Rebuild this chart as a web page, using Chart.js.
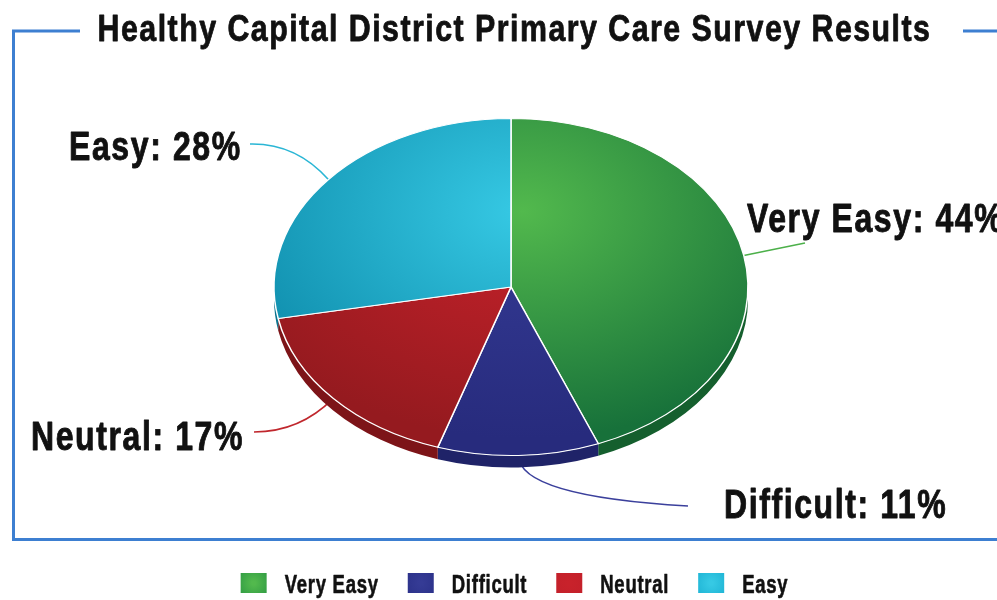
<!DOCTYPE html>
<html>
<head>
<meta charset="utf-8">
<title>Healthy Capital District Primary Care Survey Results</title>
<script src="https://cdn.jsdelivr.net/npm/chart.js@4.4.1/dist/chart.umd.min.js"></script>
<style>
  html, body { margin: 0; padding: 0; background: #fff; }
  canvas { display: block; }
</style>
</head>
<body>
<canvas id="surveyChart" width="997" height="600"></canvas>
<script>
const chartTitle = "Healthy Capital District Primary Care Survey Results";
const categories = ["Very Easy", "Difficult", "Neutral", "Easy"];
const shares = [44, 11, 17, 28];

const lightColors = ["#52b94d", "#353b95", "#c8222b", "#36c9e4"];
const darkColors = ["#17713a", "#272b7d", "#951a1f", "#0e8cab"];
const sideColors = ["#155f2e", "#1f2368", "#7d1418", "#0b7590"];
const legendColors = ["#2f9a43", "#2b3189", "#c3202a", "#1db3d4"];
const leaderColors = ["#4cb04a", "#3b409c", "#c0272d", "#2ab6d5"];

// no condensed face is installed, so a bold sans is squeezed sideways
const FONT = "'Liberation Sans', Arial, sans-serif";
const pieCenter = { x: 511, y: 287 };
const pieRadius = 237;
const squash = 0.711;   // vertical flattening of the pie
const depth = 12;       // thickness of the pie edge

// text position and leader-line end/control point for each slice
const callouts = [
  { tx: 747, ty: 232, ex: 805, ey: 243, qx: 775, qy: 249 },
  { tx: 724, ty: 518, ex: 688, ey: 506, qx: 519, qy: 496 },
  { tx: 31, ty: 450, ex: 254, ey: 432, qx: 300, qy: 432 },
  { tx: 69, ty: 160, ex: 250, ey: 144, qx: 296, qy: 143 }
];

function setFont(ctx, size, spacing) {
  ctx.font = "bold " + size + "px " + FONT;
  ctx.letterSpacing = spacing + "px";
}

function narrowText(ctx, text, x, y, size, sx, spacing, align, heavy) {
  ctx.save();
  setFont(ctx, size, spacing);
  ctx.textAlign = "left";
  ctx.textBaseline = "alphabetic";
  const w = ctx.measureText(text).width * sx;
  ctx.translate(align === "center" ? x - w / 2 : x, y);
  ctx.scale(sx, 1);
  ctx.fillText(text, 0, 0);
  if (heavy) {
    // a thin outline makes it look like the heavier condensed face
    ctx.strokeStyle = ctx.fillStyle;
    ctx.lineWidth = heavy;
    ctx.lineJoin = "round";
    ctx.strokeText(text, 0, 0);
  }
  ctx.restore();
  return w;
}

function textWidth(ctx, text, size, sx, spacing) {
  ctx.save();
  setFont(ctx, size, spacing);
  const w = ctx.measureText(text).width * sx;
  ctx.restore();
  return w;
}

// fill of the top face: one light spot near the top, slices darken outward
function sliceFill(context) {
  const i = context.dataIndex;
  const area = context.chart.chartArea;
  if (!area) return lightColors[i];
  const cx = (area.left + area.right) / 2;
  const cy = (area.top + area.bottom) / 2;
  const g = context.chart.ctx.createRadialGradient(
    cx + 0.05 * pieRadius, cy - 0.45 * pieRadius, 0,
    cx + 0.05 * pieRadius, cy - 0.45 * pieRadius, 1.35 * pieRadius);
  g.addColorStop(0, lightColors[i]);
  g.addColorStop(1, darkColors[i]);
  return g;
}

function toScreen(arc, a) {
  return {
    x: pieCenter.x + arc.outerRadius * Math.cos(a),
    y: pieCenter.y + squash * arc.outerRadius * Math.sin(a)
  };
}

const framePlugin = {
  id: "frame",
  beforeDraw(chart) {
    const ctx = chart.ctx;
    ctx.save();
    ctx.strokeStyle = "#3d7fd1";
    ctx.lineWidth = 3;
    ctx.beginPath();
    ctx.moveTo(80, 31);
    ctx.lineTo(13.5, 31);
    ctx.lineTo(13.5, 539.5);
    ctx.lineTo(997, 539.5);
    ctx.moveTo(963, 31);
    ctx.lineTo(997, 31);
    ctx.stroke();
    ctx.restore();

    ctx.save();
    ctx.fillStyle = "#111";
    narrowText(ctx, chartTitle, 514.5, 41, 37, 0.82, 1.8, "center", 0.8);
    ctx.restore();
  },
  afterDraw(chart) {
    // legend along the bottom
    const ctx = chart.ctx;
    const size = 25, sx = 0.74, sp = 1, box = 26, gap = 18, pad = 29;
    const widths = categories.map(t => textWidth(ctx, t, size, sx, sp));
    const total = widths.reduce((s, w) => s + w + box + gap, 0) + pad * (categories.length - 1);
    let x = 514.5 - total / 2;
    ctx.save();
    categories.forEach((name, i) => {
      const g = ctx.createRadialGradient(x + box / 2, 583, 2, x + box / 2, 583, box * 0.7);
      g.addColorStop(0, lightColors[i]);
      g.addColorStop(1, legendColors[i]);
      ctx.fillStyle = g;
      ctx.fillRect(x, 573, box, 20);
      ctx.fillStyle = "#111";
      narrowText(ctx, name, x + box + gap, 593, size, sx, sp, "left", 0.6);
      x += box + gap + widths[i] + pad;
    });
    ctx.restore();
  }
};

const pie3dPlugin = {
  id: "pie3d",
  beforeDatasetsDraw(chart) {
    const ctx = chart.ctx;
    const meta = chart.getDatasetMeta(0);
    const first = meta.data[0];
    const cx = first.x, cy = first.y;

    // leader lines go under the pie
    ctx.save();
    ctx.lineWidth = 1.6;
    meta.data.forEach((arc, i) => {
      const mid = (arc.startAngle + arc.endAngle) / 2;
      const p = toScreen(arc, mid);
      const c = callouts[i];
      ctx.strokeStyle = leaderColors[i];
      ctx.beginPath();
      ctx.moveTo(p.x, p.y);
      ctx.quadraticCurveTo(c.qx, c.qy, c.ex, c.ey);
      ctx.stroke();
    });
    ctx.restore();

    ctx.save();
    ctx.translate(pieCenter.x, pieCenter.y);
    ctx.scale(1, squash);
    ctx.translate(-cx, -cy);

    // the front edge of the pie
    const dp = depth / squash;
    meta.data.forEach((arc, i) => {
      [-2 * Math.PI, 0, 2 * Math.PI].forEach(shift => {
        const s = Math.max(arc.startAngle + shift, 0);
        const e = Math.min(arc.endAngle + shift, Math.PI);
        if (e <= s) return;
        ctx.beginPath();
        ctx.arc(cx, cy, arc.outerRadius, s, e);
        ctx.arc(cx, cy + dp, arc.outerRadius, e, s, true);
        ctx.closePath();
        ctx.fillStyle = sideColors[i];
        ctx.fill();
      });
    });
  },
  afterDatasetsDraw(chart) {
    const ctx = chart.ctx;
    ctx.restore();

    const meta = chart.getDatasetMeta(0);
    ctx.save();
    ctx.fillStyle = "#111";
    meta.data.forEach((arc, i) => {
      const c = callouts[i];
      narrowText(ctx, categories[i] + ": " + shares[i] + "%", c.tx, c.ty, 40, 0.8, 2, "left", 0.9);
    });
    ctx.restore();
  }
};

new Chart(document.getElementById("surveyChart"), {
  type: "pie",
  data: {
    labels: categories,
    datasets: [{
      data: shares,
      backgroundColor: sliceFill,
      borderColor: "#ffffff",
      borderWidth: 1.5,
      radius: pieRadius,
      clip: false
    }]
  },
  options: {
    responsive: false,
    animation: false,
    events: [],
    layout: { padding: { left: 40, right: 8, top: 50, bottom: 60 } },
    plugins: {
      title: { display: false },
      legend: { display: false },
      tooltip: { enabled: false }
    }
  },
  plugins: [framePlugin, pie3dPlugin]
});
</script>
</body>
</html>
